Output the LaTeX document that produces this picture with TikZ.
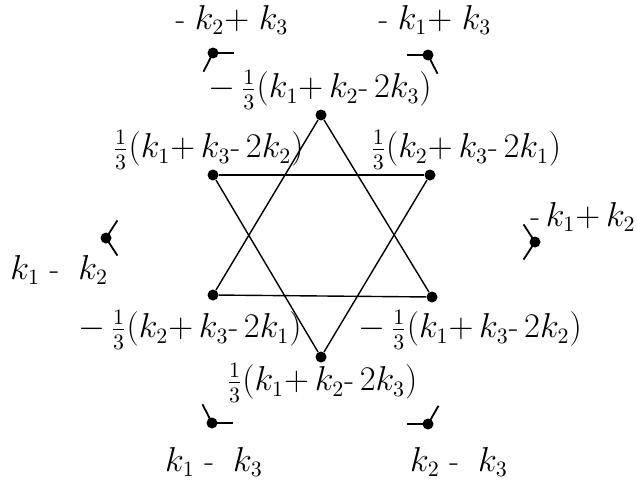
\documentclass[tikz,border=0pt]{standalone}
\usepackage{amsmath}
\usetikzlibrary{positioning}
\newcommand{\hy}{\text{-}}

\begin{document}
\begin{tikzpicture}[
  x=0.5pt, y=-0.5pt,
  dot/.style  = {circle, fill, inner sep=0pt, minimum size=5.5pt},
  lbl/.style  = {font=\fontsize{16}{19}\selectfont, inner sep=0pt},
  edge/.style = {line width=0.7pt},
  leg/.style  = {line width=0.9pt},
]
\useasboundingbox (0,0) rectangle (637,482);

% star vertices
\node[dot] (top) at (321,115) {};
\node[dot] (ul)  at (213,175) {};
\node[dot] (ur)  at (430,175) {};
\node[dot] (ll)  at (213,295) {};
\node[dot] (lr)  at (432,297) {};
\node[dot] (bot) at (321,357) {};

\draw[edge] (top) -- (ll);
\draw[edge] (ll)  -- (lr);
\draw[edge] (lr)  -- (top);
\draw[edge] (bot) -- (ul);
\draw[edge] (ul)  -- (ur);
\draw[edge] (ur)  -- (bot);

% outer dots with their two legs (angles counted with y downwards)
\foreach \name/\pos/\a/\b in {tl/{(213,53)}/0/117, tr/{(428,55)}/180/63,
    le/{(106,238)}/-57/57, ri/{(535,242)}/-123/123,
    bl/{(212,423)}/-117/0, br/{(428,424)}/180/-60} {
  \node[dot] (\name) at \pos {};
  \draw[leg] (\name.center) -- ++(\a:21);
  \draw[leg] (\name.center) -- ++(\b:21);
}

% labels of the star vertices
\node[lbl] (ltop)               at (320,90)  {$-\,\frac{1}{3}(k_1{+}\,k_2\hy\,2k_3)$};
\node[lbl, anchor=east] (lul)   at (304,150) {$\frac{1}{3}(k_1{+}\,k_3\hy\,2k_2)$};
\node[lbl, anchor=west] (lur)   at (370,150) {$\frac{1}{3}(k_2{+}\,k_3\hy\,2k_1)$};
\node[lbl, anchor=east] (lll)   at (302,330) {$-\,\frac{1}{3}(k_2{+}\,k_3\hy\,2k_1)$};
\node[lbl, anchor=west] (llr)   at (358,330) {$-\,\frac{1}{3}(k_1{+}\,k_3\hy\,2k_2)$};
\node[lbl] (lbot)               at (322,383) {$\frac{1}{3}(k_1{+}\,k_2\hy\,2k_3)$};

% labels of the outer dots
\node[lbl] (otl)                at (232,20)  {$\hy\;k_2{+}\;k_3$};
\node[lbl] (otr)                at (435,20)  {$\hy\;k_1{+}\;k_3$};
\node[lbl, anchor=west] (ole)   at (10,270)  {$k_1\;\hy\;\;k_2$};
\node[lbl, anchor=east] (ori)   at (636,217) {$\hy\,k_1{+}\,k_2$};
\node[lbl] (obl)                at (214,462) {$k_1\;\hy\;\;k_3$};
\node[lbl] (obr)                at (459,462) {$k_2\;\hy\;\;k_3$};

\end{tikzpicture}
\end{document}
